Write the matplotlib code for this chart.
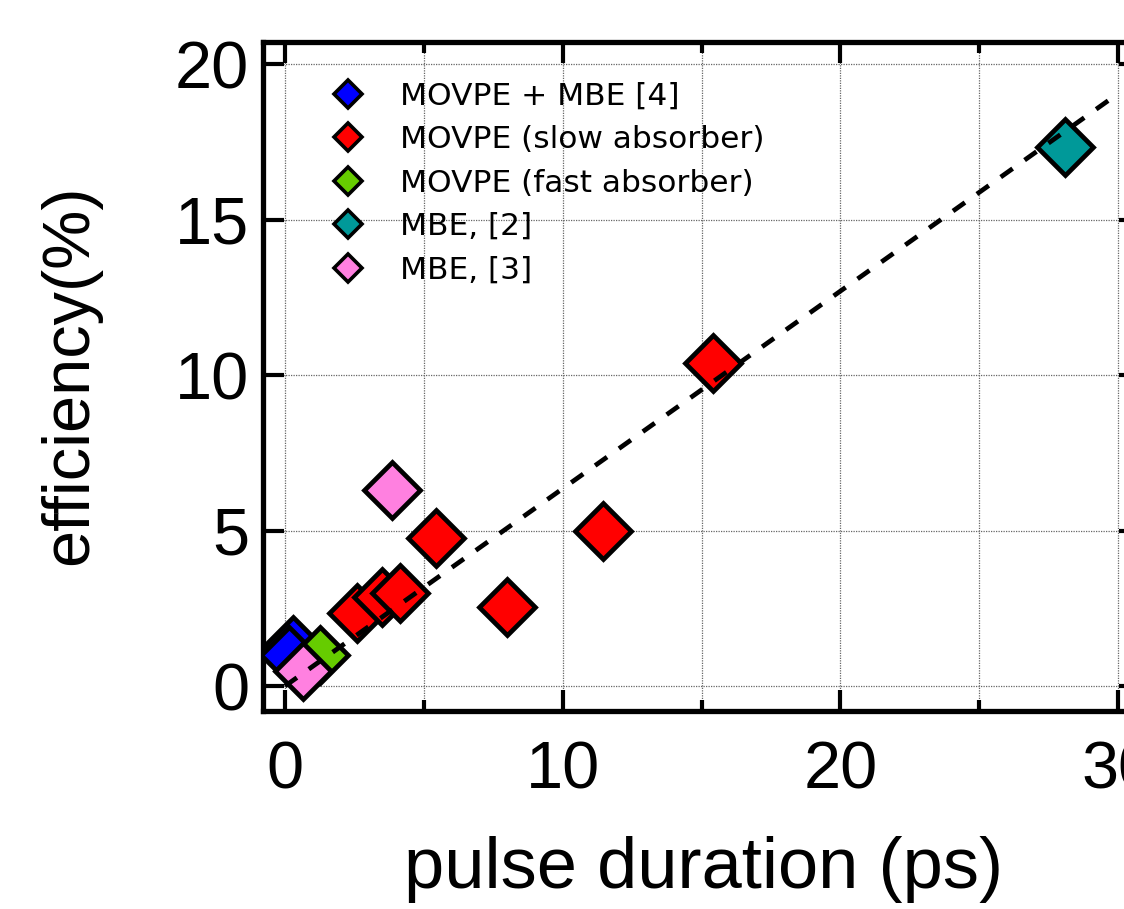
import matplotlib
matplotlib.use('Agg')
import matplotlib.pyplot as plt

plt.rcParams['font.family'] = ['Liberation Sans', 'DejaVu Sans']

# data
movpe_mbe_x = [0.30, 0.15]
movpe_mbe_y = [1.32, 1.00]
slow_x = [2.60, 3.50, 4.15, 5.45, 8.00, 11.45, 15.40]
slow_y = [2.35, 2.85, 3.00, 4.75, 2.55, 5.00, 10.40]
fast_x = [1.26]
fast_y = [1.00]
mbe2_x = [28.1]
mbe2_y = [17.35]
mbe3_x = [0.65, 3.85]
mbe3_y = [0.48, 6.30]
fit_x = [0, 30]
fit_y = [0, 19.05]

series = [
    (movpe_mbe_x, movpe_mbe_y, '#0000ff', 'MOVPE + MBE [4]'),
    (slow_x, slow_y, '#ff0000', 'MOVPE (slow absorber)'),
    (fast_x, fast_y, '#66cc00', 'MOVPE (fast absorber)'),
    (mbe2_x, mbe2_y, '#009999', 'MBE, [2]'),
    (mbe3_x, mbe3_y, '#ff80e0', 'MBE, [3]'),
]

fig = plt.figure(figsize=(11.24, 9.09), dpi=100)
# axes reaches past the right edge of the figure (cropped like the original)
ax = fig.add_axes([263/1124, 198/909, 877/1124, 669/909])

for x, y, c, lab in series:
    ax.plot(x, y, linestyle='none', marker='D', markersize=28.5,
            markerfacecolor=c, markeredgecolor='black', markeredgewidth=3.4,
            label=lab, zorder=3)

ax.plot(fit_x, fit_y, color='black', lw=3.4, linestyle=(0, (3.1, 3.1)),
        zorder=4)

ax.set_xlim(-0.79, 30.79)
ax.set_ylim(-0.80, 20.71)
ax.set_xticks([0, 10, 20, 30])
ax.set_xticks([5, 15, 25], minor=True)
ax.set_yticks([0, 5, 10, 15, 20])

ax.grid(which='both', axis='x', color='#666666', lw=0.9, linestyle=(0, (1, 1)))
ax.grid(which='major', axis='y', color='#666666', lw=0.9, linestyle=(0, (1, 1)))
ax.set_axisbelow(True)

for s in ax.spines.values():
    s.set_linewidth(3.8)

ax.tick_params(which='major', direction='in', length=15, width=3,
               top=True, right=True, labelsize=48)
ax.tick_params(which='minor', direction='in', length=8, width=3,
               top=True, right=True)
ax.tick_params(axis='x', which='major', pad=21)
ax.tick_params(axis='y', which='major', pad=10)

ax.set_xlabel('pulse duration (ps)', fontsize=52)
ax.xaxis.set_label_coords(0.502, -0.187)
ax.set_ylabel('efficiency(%)', fontsize=48)
ax.yaxis.set_label_coords(-0.185, 0.502)

leg = ax.legend(loc='upper left', bbox_to_anchor=(323/1124, (909-82)/909),
                bbox_transform=fig.transFigure, frameon=False,
                prop={'family': 'DejaVu Sans', 'size': 22.5},
                markerscale=0.5, handlelength=1.6, handletextpad=0.86,
                labelspacing=0.46, borderpad=0, borderaxespad=0)
for h in leg.legend_handles:
    h.set_markeredgewidth(2.6)

fig.savefig('out.png', dpi=100)
